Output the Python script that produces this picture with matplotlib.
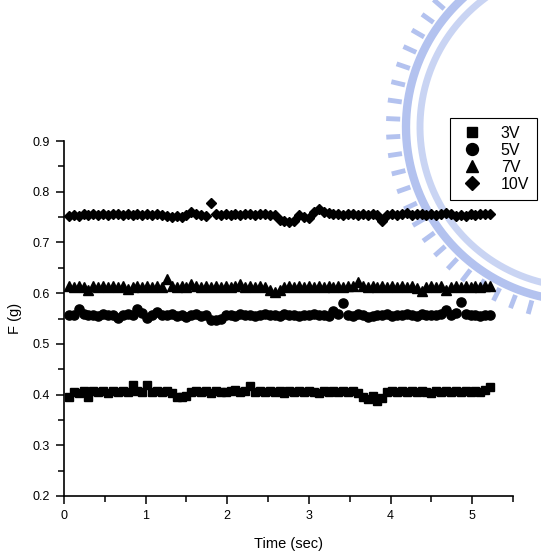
import numpy as np
import matplotlib.pyplot as plt
import matplotlib as mpl

mpl.rcParams['font.family'] = ['Liberation Sans', 'DejaVu Sans']
mpl.rcParams['xtick.direction'] = 'out'
mpl.rcParams['ytick.direction'] = 'out'

# sample times (s)
t = np.round(np.arange(1, 88) * 0.06, 2)

f_3v = [0.396, 0.406, 0.404, 0.408, 0.395, 0.407, 0.405, 0.408, 0.404, 0.407,
        0.405, 0.408, 0.406, 0.418, 0.407, 0.405, 0.419, 0.406, 0.408, 0.405,
        0.407, 0.404, 0.396, 0.395, 0.397, 0.406, 0.408, 0.405, 0.407, 0.404,
        0.408, 0.406, 0.405, 0.407, 0.409, 0.406, 0.408, 0.416, 0.405, 0.407,
        0.406, 0.408, 0.405, 0.407, 0.404, 0.408, 0.406, 0.407, 0.405, 0.408,
        0.406, 0.404, 0.408, 0.405, 0.407, 0.406, 0.408, 0.405, 0.407, 0.404,
        0.395, 0.392, 0.397, 0.388, 0.394, 0.406, 0.408, 0.405, 0.407, 0.406,
        0.408, 0.405, 0.407, 0.406, 0.404, 0.408, 0.406, 0.407, 0.405, 0.408,
        0.406, 0.407, 0.405, 0.408, 0.406, 0.409, 0.414]

f_5v = [0.556, 0.557, 0.569, 0.558, 0.556, 0.557, 0.555, 0.558, 0.556, 0.557,
        0.551, 0.556, 0.558, 0.557, 0.569, 0.560, 0.551, 0.556, 0.563, 0.557,
        0.556, 0.558, 0.555, 0.557, 0.552, 0.556, 0.558, 0.555, 0.557, 0.548,
        0.547, 0.550, 0.556, 0.557, 0.555, 0.558, 0.556, 0.557, 0.555, 0.557,
        0.558, 0.556, 0.557, 0.555, 0.558, 0.556, 0.557, 0.555, 0.557, 0.556,
        0.558, 0.556, 0.557, 0.555, 0.565, 0.558, 0.581, 0.557, 0.555, 0.558,
        0.556, 0.553, 0.555, 0.557, 0.556, 0.558, 0.555, 0.557, 0.556, 0.558,
        0.557, 0.555, 0.558, 0.556, 0.557, 0.556, 0.558, 0.566, 0.557, 0.560,
        0.582, 0.558, 0.556, 0.557, 0.555, 0.557, 0.556]

f_7v = [0.614, 0.612, 0.615, 0.613, 0.607, 0.614, 0.612, 0.615, 0.613, 0.614,
        0.612, 0.615, 0.608, 0.613, 0.614, 0.612, 0.615, 0.613, 0.614, 0.612,
        0.628, 0.614, 0.613, 0.615, 0.612, 0.618, 0.614, 0.613, 0.615, 0.612,
        0.614, 0.613, 0.615, 0.612, 0.614, 0.618, 0.613, 0.615, 0.612, 0.614,
        0.613, 0.607, 0.602, 0.607, 0.613, 0.615, 0.612, 0.614, 0.613, 0.615,
        0.612, 0.614, 0.613, 0.615, 0.612, 0.614, 0.613, 0.615, 0.614, 0.622,
        0.614, 0.612, 0.615, 0.613, 0.614, 0.612, 0.615, 0.613, 0.614, 0.612,
        0.614, 0.610, 0.605, 0.612, 0.614, 0.613, 0.615, 0.607, 0.613, 0.614,
        0.612, 0.615, 0.613, 0.614, 0.612, 0.615, 0.614]

f_10v = [0.753, 0.755, 0.752, 0.756, 0.754, 0.757, 0.755, 0.756, 0.754, 0.757,
         0.756, 0.755, 0.757, 0.755, 0.756, 0.754, 0.757, 0.755, 0.756, 0.755,
         0.752, 0.750, 0.753, 0.751, 0.755, 0.760, 0.757, 0.755, 0.752, 0.778,
         0.756, 0.755, 0.757, 0.755, 0.756, 0.755, 0.757, 0.756, 0.755, 0.757,
         0.756, 0.755, 0.754, 0.745, 0.742, 0.740, 0.742, 0.755, 0.750, 0.748,
         0.760, 0.765, 0.760, 0.758, 0.756, 0.757, 0.755, 0.757, 0.756, 0.755,
         0.757, 0.755, 0.756, 0.754, 0.742, 0.755, 0.757, 0.755, 0.756, 0.758,
         0.755, 0.757, 0.756, 0.754, 0.757, 0.755, 0.756, 0.758, 0.757, 0.752,
         0.754, 0.752, 0.756, 0.755, 0.757, 0.756, 0.757]

series = [('3V', f_3v, 's', 5.8), ('5V', f_5v, 'o', 6.6),
          ('7V', f_7v, '^', 6.8), ('10V', f_10v, 'D', 5.2)]

fig = plt.figure(figsize=(5.41, 5.56), dpi=100)

# faint watermark behind the plot (pixel coordinates of the figure)
wm = fig.add_axes([0, 0, 1, 1], zorder=0)
wm.set_xlim(0, 541)
wm.set_ylim(556, 0)
wm.axis('off')
wm_col = '#b3c2ef'
cx, cy = 580, 127
for a in np.radians(np.arange(100, 228, 5.5)):
    wm.plot([cx + 180*np.cos(a), cx + 194*np.cos(a)],
            [cy + 180*np.sin(a), cy + 194*np.sin(a)],
            color=wm_col, lw=3.5, solid_capstyle='butt')
arc = np.radians(np.linspace(95, 235, 200))
wm.plot(cx + 174*np.cos(arc), cy + 174*np.sin(arc), color=wm_col, lw=6)
wm.plot(cx + 160*np.cos(arc), cy + 160*np.sin(arc), color=wm_col, lw=5, alpha=0.7)

ax = fig.add_axes([64/541, 60/556, 449/541, 355/556], zorder=1)
ax.patch.set_visible(False)

for name, vals, mk, ms in series:
    ax.plot(t, vals, linestyle='none', marker=mk, ms=ms, color='black', label=name)

ax.set_xlim(0, 5.5)
ax.set_ylim(0.2, 0.9)
ax.set_xticks(np.arange(0, 6, 1))
ax.set_xticks(np.arange(0.5, 5.6, 1), minor=True)
ax.set_yticks(np.arange(0.2, 0.91, 0.1))
ax.set_yticks(np.arange(0.25, 0.9, 0.1), minor=True)
ax.xaxis.set_major_formatter(mpl.ticker.FormatStrFormatter('%d'))
ax.yaxis.set_major_formatter(mpl.ticker.FormatStrFormatter('%.1f'))
ax.tick_params(which='major', length=6, width=1.1, labelsize=9, pad=4)
ax.tick_params(which='minor', length=4, width=1.1)
ax.spines['top'].set_visible(False)
ax.spines['right'].set_visible(False)
ax.spines['left'].set_linewidth(1.2)
ax.spines['bottom'].set_linewidth(1.2)

ax.set_xlabel('Time (sec)', fontsize=10.5, labelpad=11)
ax.set_ylabel('F (g)', fontsize=10.5, labelpad=8)

leg = ax.legend(loc='upper right', bbox_to_anchor=(537/541, 1 - 118/556),
                bbox_transform=fig.transFigure, borderaxespad=0, fancybox=False,
                edgecolor='black', framealpha=1, fontsize=11.5, markerscale=1.3,
                handlelength=1.8, handletextpad=0.9, labelspacing=0.12, borderpad=0.5)
leg.get_frame().set_linewidth(0.8)

fig.savefig('out.png', dpi=100)
